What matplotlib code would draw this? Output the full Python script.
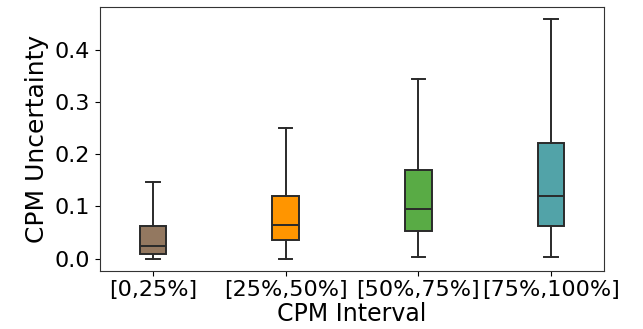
import matplotlib
matplotlib.use("Agg")
import matplotlib.pyplot as plt

categories = ["[0,25%]", "[25%,50%]", "[50%,75%]", "[75%,100%]"]
whislo = [0.0, 0.0, 0.003, 0.004]
q1 = [0.0085, 0.035, 0.053, 0.063]
med = [0.024, 0.064, 0.0955, 0.120]
q3 = [0.0635, 0.1205, 0.169, 0.221]
whishi = [0.147, 0.250, 0.344, 0.459]
colors = ["#937860", "#FF9500", "#59AB45", "#52A3A8"]

stats = []
for i, c in enumerate(categories):
    stats.append(dict(label=c, whislo=whislo[i], q1=q1[i], med=med[i],
                      q3=q3[i], whishi=whishi[i], fliers=[]))

fig = plt.figure(figsize=(6.43, 3.29), dpi=100)
ax = fig.add_axes([0.1555, 0.1772, 0.7838, 0.8015])
lc = "#2a2a2a"
bp = ax.bxp(stats, positions=range(len(categories)), widths=0.2,
            patch_artist=True, showfliers=False,
            boxprops=dict(edgecolor=lc, linewidth=1.4),
            whiskerprops=dict(color=lc, linewidth=1.4),
            capprops=dict(color=lc, linewidth=1.4),
            medianprops=dict(color=lc, linewidth=1.4))
for patch, col in zip(bp["boxes"], colors):
    patch.set_facecolor(col)

ax.set_xlim(-0.4, 3.4)
ax.set_xticks(range(len(categories)))
ax.set_xticklabels(categories)
ax.set_yticks([0.0, 0.1, 0.2, 0.3, 0.4])
ax.tick_params(labelsize=16)
ax.set_xlabel("CPM Interval", fontsize=17, labelpad=1)
ax.set_ylabel("CPM Uncertainty", fontsize=18, labelpad=4)
for s in ax.spines.values():
    s.set_color("#333333")

fig.savefig("out.png", dpi=100)
